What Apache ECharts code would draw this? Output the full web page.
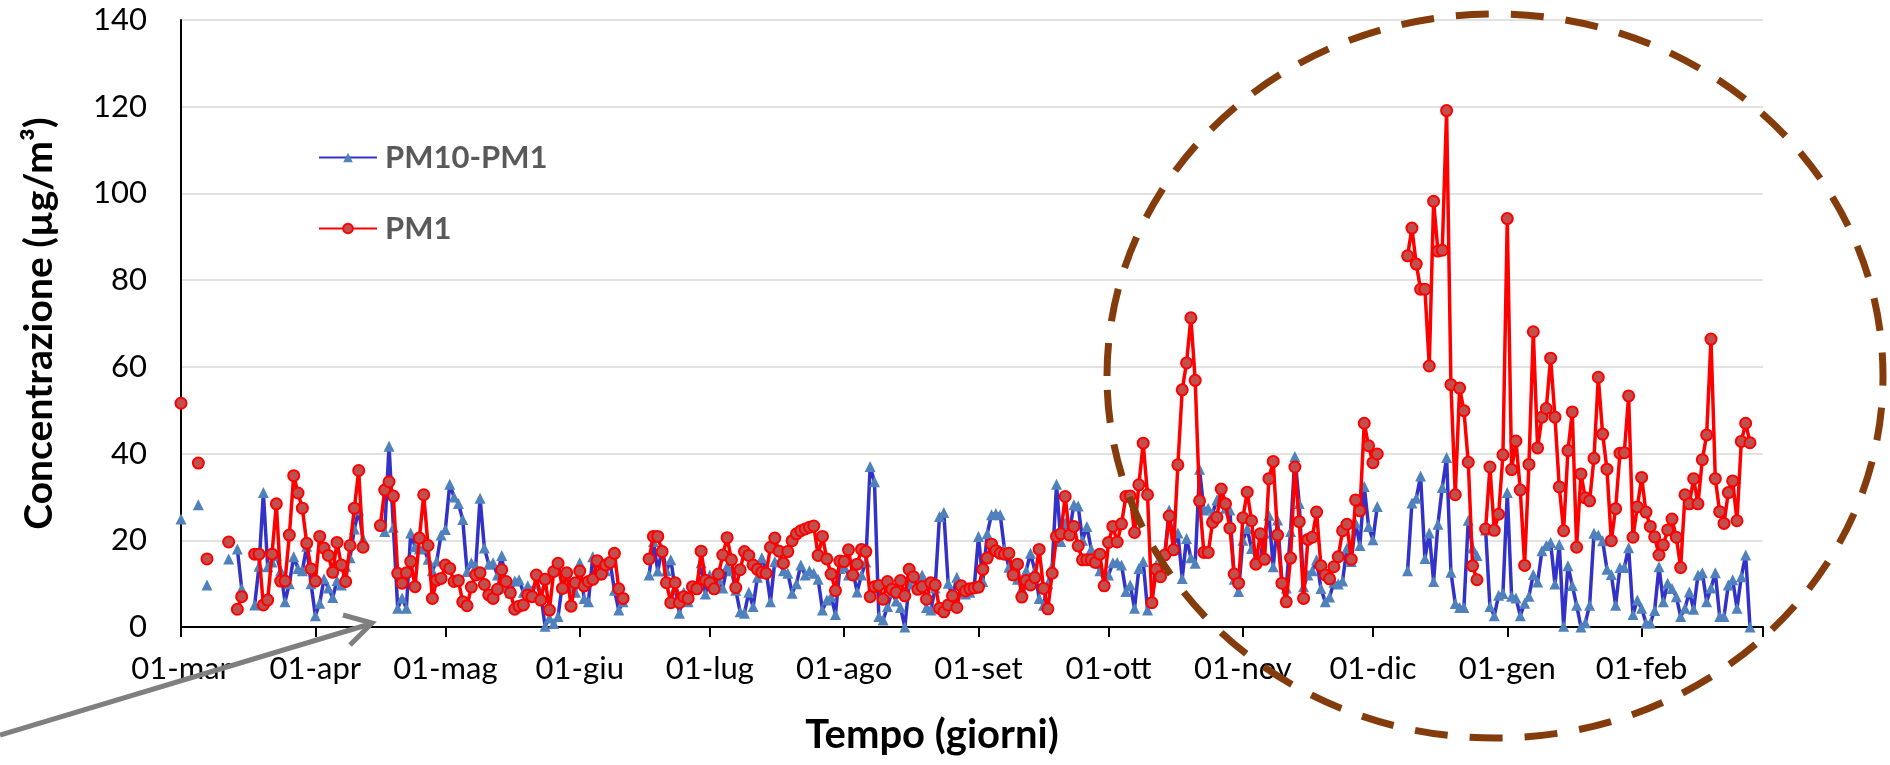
<!DOCTYPE html>
<html>
<head>
<meta charset="utf-8">
<script src="https://cdn.jsdelivr.net/npm/echarts@6/dist/echarts.min.js"></script>
<style>html,body{margin:0;padding:0;background:#fff}#c{width:1890px;height:765px}</style>
</head>
<body>
<div id="c"></div>
<script>
// ---- tick labels / categories ----
const monthNames = ['mar','apr','mag','giu','lug','ago','set','ott','nov','dic','gen','feb'];
const monthDays  = [31, 30, 31, 30, 31, 31, 30, 31, 30, 31, 31, 28];
const yMin = 0, yMax = 140, yStep = 20;

// ---- series values: one value per day, 01-mar ... 28-feb (null = no data) ----
const pm10pm1 = [
  // mar
  24.9,null,null,null,28.2,null,9.7,null,null,null,null,15.7,null,18.0,8.9,null,null,5.1,14.0,31.0,13.9,15.0,16.5,13.0,5.8,10.0,16.2,13.5,13.0,18.6,10.0,
  // apr
  2.6,5.5,11.1,9.0,6.8,10.7,9.7,14.0,16.0,22.6,27.0,20.3,null,null,null,null,22.0,41.7,23.0,4.3,6.7,4.3,21.7,18.5,18.0,18.2,15.6,13.0,15.2,21.2,
  // mag
  22.5,32.9,30.0,28.5,24.8,12.8,14.8,14.0,29.7,18.2,14.5,14.8,12.0,16.5,9.0,7.9,10.6,10.9,8.0,9.5,8.5,10.0,7.5,0.2,2.1,0.8,2.4,10.0,12.0,9.0,8.0,
  // giu
  14.8,6.6,5.8,16.2,12.0,14.0,13.0,15.0,8.5,3.9,5.8,null,null,null,null,null,12.0,19.7,12.9,18.0,13.0,15.5,9.0,3.2,8.0,5.8,9.0,9.5,14.8,7.6,
  // lug
  12.0,9.0,11.0,9.0,14.0,13.0,8.5,3.5,3.2,8.0,4.7,11.5,16.0,13.0,5.8,15.1,15.0,13.0,12.4,7.8,10.0,14.3,12.0,13.0,12.4,11.0,3.9,6.2,7.0,2.9,13.5,
  // ago
  14.0,12.0,13.0,8.1,12.0,15.0,37.0,33.5,2.4,1.6,4.7,8.0,6.0,4.5,0.0,10.0,11.0,9.0,12.0,4.5,3.9,9.0,25.5,26.4,10.1,7.0,11.5,8.0,7.6,8.0,9.0,
  // set
  20.9,10.5,21.5,25.9,26.2,25.9,18.0,13.8,12.0,11.0,9.0,13.0,17.0,13.0,6.6,5.0,10.0,14.0,32.9,19.7,24.0,22.0,28.2,27.9,20.0,23.2,18.0,15.0,13.0,10.8,
  // ott
  12.0,14.8,14.9,14.3,8.2,9.7,4.3,13.5,15.1,3.9,6.2,14.3,13.1,17.0,27.0,18.5,21.7,11.2,20.4,16.0,14.7,36.4,27.0,27.4,26.2,29.3,30.8,27.4,27.0,11.0,8.2,
  // nov
  20.0,22.7,18.1,16.2,15.8,21.6,25.8,13.9,24.7,10.5,9.0,22.0,39.3,28.5,9.3,12.0,13.0,15.5,8.9,5.8,6.9,10.3,9.9,10.6,18.2,15.1,24.0,18.8,32.4,23.2,
  // dic
  20.1,27.8,null,null,null,null,null,null,13.0,28.6,29.7,34.8,15.8,21.7,10.5,23.7,32.2,39.1,12.6,5.4,4.5,4.5,24.6,18.2,16.5,null,22.4,4.7,2.6,7.3,7.7,
  // gen
  31.0,7.1,6.7,2.6,5.5,7.1,12.1,10.4,17.6,18.8,19.5,9.9,19.0,0.2,14.1,9.6,5.0,0.0,1.0,5.0,21.6,21.2,19.9,13.3,12.1,5.0,13.7,13.7,18.3,2.9,6.2,
  // feb
  4.3,0.9,0.9,3.8,13.9,5.8,10.1,8.9,7.0,2.4,4.3,8.1,4.1,12.0,12.5,5.8,9.0,12.5,2.4,2.4,9.7,10.9,4.3,11.6,16.6,0.0,null,null
];

const pm1 = [
  // mar
  51.6,null,null,null,37.8,null,15.7,null,null,null,null,19.6,null,4.1,7.0,null,null,16.8,16.8,5.1,6.2,16.8,28.4,10.6,10.6,21.2,34.9,30.9,27.4,19.3,13.4,
  // apr
  10.6,20.9,18.2,16.5,12.6,19.5,14.3,10.5,18.8,27.4,36.1,18.4,null,null,null,23.4,31.6,33.5,30.2,12.4,10.1,12.5,15.1,9.3,20.5,30.5,18.8,6.6,10.8,11.2,
  // mag
  14.3,13.5,10.5,10.7,5.8,4.9,9.2,12.0,12.5,9.8,7.4,6.6,8.7,13.2,10.5,7.9,4.1,4.8,5.1,7.4,7.0,12.0,6.2,11.0,3.9,12.8,14.7,8.9,12.5,4.8,10.2,
  // giu
  12.9,9.5,10.5,11.0,15.3,12.2,14.3,14.9,17.0,8.8,6.6,null,null,null,null,null,15.7,20.9,20.9,17.4,10.2,5.6,10.2,5.6,7.0,6.6,9.3,8.8,17.5,10.8,
  // lug
  10.2,8.8,12.2,16.6,20.6,15.5,9.1,13.2,17.4,16.5,14.3,13.3,12.6,12.4,18.4,20.5,17.5,14.7,17.4,19.9,21.5,22.2,22.6,23.0,23.3,16.5,20.9,15.7,12.2,8.4,15.2,
  // ago
  15.1,17.8,12.0,14.5,17.9,17.4,7.0,9.3,9.6,6.4,10.5,8.7,8.0,10.7,7.2,13.3,11.6,8.7,9.3,6.4,10.2,9.7,4.3,3.5,5.1,7.2,4.5,9.5,8.3,8.8,9.0,
  // set
  9.2,13.3,15.9,19.1,17.6,17.0,16.8,17.0,12.0,14.5,6.9,10.7,9.7,11.4,17.9,8.9,4.2,12.4,20.9,21.5,30.1,21.2,23.2,18.7,15.5,15.5,15.5,14.9,16.8,9.5,
  // ott
  19.5,23.2,19.6,23.8,30.1,30.2,21.8,32.8,42.4,30.5,5.6,13.3,11.6,16.6,25.6,17.8,37.4,54.7,60.9,71.3,56.9,29.1,17.2,17.2,24.1,25.3,31.8,28.4,22.8,12.2,10.1,
  // nov
  25.2,31.1,24.5,14.5,21.5,15.6,34.2,38.2,21.2,10.1,5.8,15.9,36.9,24.3,6.6,20.2,20.7,26.5,14.1,12.0,11.1,13.9,16.2,22.2,23.7,15.6,29.3,26.8,47.0,41.8,
  // dic
  37.9,39.9,null,null,null,null,null,null,85.6,92.0,83.7,77.9,77.9,60.2,98.2,86.7,86.9,119.1,55.9,30.5,55.1,49.9,38.0,14.1,10.9,null,22.6,36.9,22.3,26.0,39.7,
  // gen
  94.2,36.3,42.9,31.6,14.2,37.5,68.1,41.3,48.4,50.4,62.0,48.4,32.3,22.2,40.7,49.6,18.4,35.3,29.8,29.1,38.9,57.6,44.5,36.4,19.9,27.3,40.1,40.2,53.3,20.7,27.7,
  // feb
  34.5,26.5,23.2,20.8,16.6,18.9,22.4,24.9,20.7,13.7,30.5,28.4,34.2,28.4,38.6,44.3,66.4,34.2,26.6,23.9,31.0,33.7,24.5,42.8,47.0,42.5,null,null
];

// ---- build day categories "dd-mmm" (+ closing 01-mar) ----
const days = [];
monthNames.forEach(function (m, i) {
  for (let d = 1; d <= monthDays[i]; d++) days.push((d < 10 ? '0' + d : '' + d) + '-' + m);
});
days.push('01-mar');
const lastIdx = days.length - 1;

const FONT = 'Lato, "Open Sans", sans-serif';
const chart = echarts.init(document.getElementById('c'), null, {renderer: 'canvas'});

chart.setOption({
  animation: false,
  backgroundColor: '#ffffff',
  grid: {left: 181, right: 127, top: 20, bottom: 138, containLabel: false, outerBoundsMode: 'none'},
  legend: {
    orient: 'vertical', left: 313, top: 137, itemGap: 40,
    itemWidth: 58, itemHeight: 12,
    textStyle: {fontFamily: FONT, fontSize: 31, fontWeight: 'bold', color: '#595959', padding: [0, 0, 0, 3]},
    data: ['PM10-PM1', 'PM1']
  },
  xAxis: {
    type: 'category', data: days, boundaryGap: false,
    name: 'Tempo (giorni)', nameLocation: 'middle', nameGap: 88,
    nameTextStyle: {fontFamily: FONT, fontSize: 40, fontWeight: 'bold', color: '#000', padding: [0, 80, 0, 0]},
    axisLine: {lineStyle: {color: '#000', width: 2}},
    axisTick: {show: true, length: 10, lineStyle: {color: '#000', width: 2},
      interval: function (i, v) { return v.slice(0, 3) === '01-'; }},
    axisLabel: {fontFamily: FONT, fontSize: 31, color: '#000', margin: 26,
      interval: function (i, v) { return v.slice(0, 3) === '01-'; },
      formatter: function (v, i) { return i === lastIdx ? '' : v; }},
    splitLine: {show: false}
  },
  yAxis: {
    type: 'value', min: yMin, max: yMax, interval: yStep,
    name: 'Concentrazione (µg/m³)', nameLocation: 'middle', nameGap: 122,
    nameTextStyle: {fontFamily: FONT, fontSize: 39, fontWeight: 'bold', color: '#000'},
    axisLine: {show: true, lineStyle: {color: '#000', width: 2}},
    axisTick: {show: false},
    axisLabel: {fontFamily: FONT, fontSize: 31, color: '#000', margin: 34},
    splitLine: {show: true, lineStyle: {color: '#d9d9d9', width: 1.5}}
  },
  series: [
    {
      name: 'PM10-PM1', type: 'line', data: pm10pm1,
      showSymbol: true, showAllSymbol: true, connectNulls: false,
      symbol: 'triangle', symbolSize: 11,
      lineStyle: {color: '#3232C8', width: 3.5},
      itemStyle: {color: '#4F81BD', borderWidth: 0},
      z: 2
    },
    {
      name: 'PM1', type: 'line', data: pm1,
      showSymbol: true, showAllSymbol: true, connectNulls: false,
      symbol: 'circle', symbolSize: 11,
      lineStyle: {color: '#FF0000', width: 3.5},
      itemStyle: {color: '#C0504D', borderColor: '#FF0000', borderWidth: 2},
      z: 3
    }
  ],
  graphic: [
    {
      type: 'ellipse', z: 100, silent: true,
      shape: {cx: 1495, cy: 376, rx: 388, ry: 362},
      style: {fill: 'none', stroke: '#843C0C', lineWidth: 7, lineDash: [33, 22]}
    },
    {
      type: 'line', z: 100, silent: true,
      shape: {x1: 0, y1: 735, x2: 370, y2: 624},
      style: {stroke: '#7F7F7F', lineWidth: 5}
    },
    {
      type: 'polyline', z: 100, silent: true,
      shape: {points: [[343, 615], [372, 623], [350, 645]]},
      style: {stroke: '#7F7F7F', lineWidth: 5, fill: 'none', lineJoin: 'miter'}
    }
  ]
});
</script>
</body>
</html>
